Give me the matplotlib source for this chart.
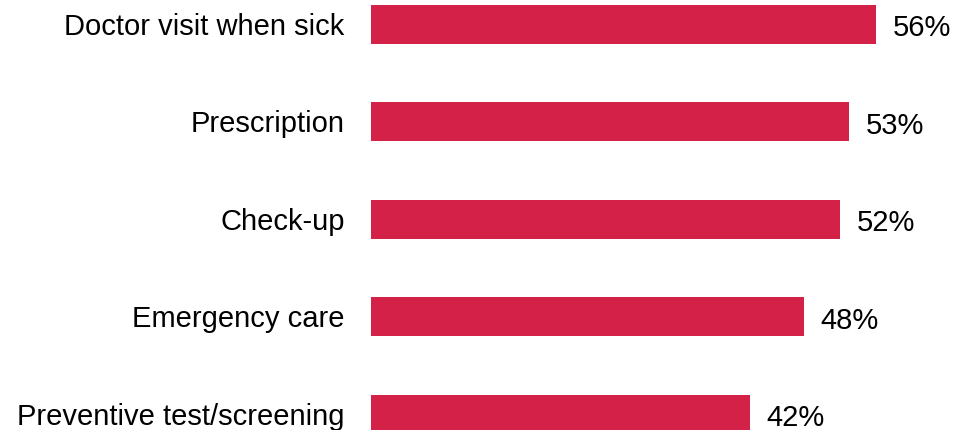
import matplotlib.pyplot as plt

categories = ["Doctor visit when sick", "Prescription", "Check-up",
              "Emergency care", "Preventive test/screening"]
values = [56, 53, 52, 48, 42]

plt.rcParams["font.family"] = ["Liberation Sans", "DejaVu Sans"]

fig = plt.figure(figsize=(9.59, 4.30), dpi=100)
ax = fig.add_axes([371 / 959, 0, 588 / 959, 1])

pos = list(range(len(categories)))
ax.barh(pos, values, height=0.4, color="#D32147")

ax.set_xlim(0, 65.2)
ax.set_ylim(4.159, -0.251)

for p, v in zip(pos, values):
    # baseline offsets so the caps sit centred on the bar like the original
    ax.annotate(f"{v}%", (v, p), xytext=(12, -8.3), textcoords="offset points",
                va="baseline", ha="left", fontsize=21, color="black",
                annotation_clip=False)
    ax.annotate(categories[p], (0, p), xytext=(-19, -7.4), textcoords="offset points",
                va="baseline", ha="right", fontsize=21, color="black",
                annotation_clip=False)

ax.axis("off")
fig.savefig("out.png", dpi=100)
